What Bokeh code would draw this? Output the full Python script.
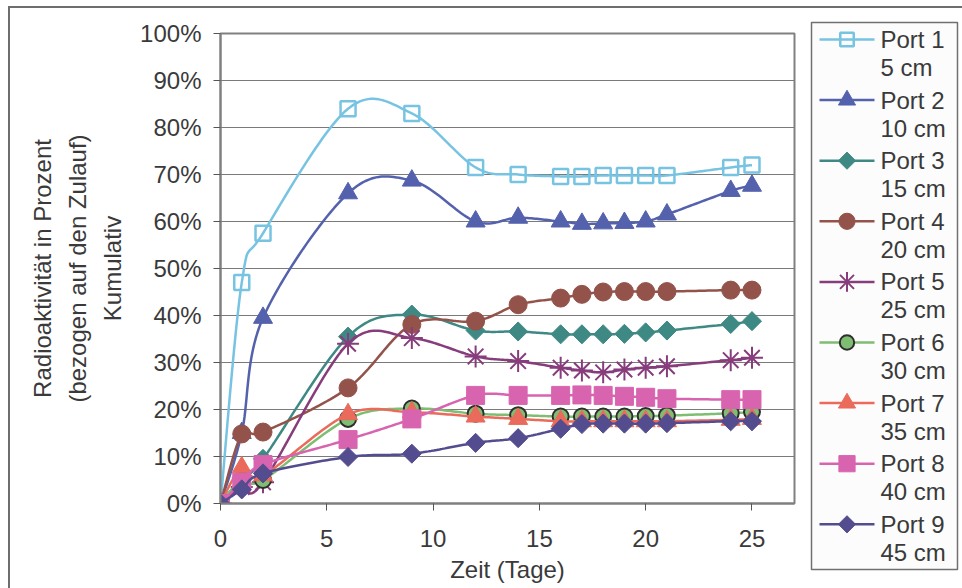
import numpy as np
from bokeh.plotting import figure
from bokeh.layouts import row
from bokeh.models import FixedTicker, PrintfTickFormatter, Range1d
from bokeh.core.properties import value
from bokeh.embed import file_html
from bokeh.resources import INLINE

# Sampling days
tage = [0, 1, 2, 6, 9, 12, 14, 16, 17, 18, 19, 20, 21, 24, 25]

# Cumulative radioactivity per port, percent of the inflow
port1 = [0, 47, 57.5, 84, 83, 71.5, 70, 69.6, 69.6, 69.8, 69.8, 69.8, 69.8, 71.5, 72]
port2 = [0, 15, 39.5, 66, 68.7, 60, 60.8, 60, 59.5, 59.6, 59.7, 60, 61.5, 66.5, 67.6]
port3 = [0, 5.5, 9.5, 35.5, 40.2, 36.8, 36.6, 36, 36, 36, 36.1, 36.4, 36.8, 38.2, 38.8]
port4 = [0, 14.8, 15.2, 24.6, 38.1, 38.8, 42.3, 43.7, 44.5, 45, 45.1, 45.1, 45.1, 45.4, 45.4]
port5 = [0, 3.5, 4.5, 34, 35.2, 31.3, 30.3, 28.9, 28.3, 27.9, 28.5, 28.9, 29.2, 30.5, 31]
port6 = [0, 5, 5, 18, 20.2, 19.1, 18.8, 18.5, 18.5, 18.5, 18.5, 18.6, 18.7, 19.2, 19.5]
port7 = [0, 7.7, 6, 19, 19.4, 18.5, 18, 17.5, 17.5, 17.5, 17.5, 17.5, 17.5, 17.8, 18]
port8 = [0, 4.5, 8.3, 13.6, 18, 23, 23, 23, 23.1, 23, 22.8, 22.6, 22.3, 22.1, 22.1]
port9 = [0, 3, 6.4, 9.9, 10.6, 12.9, 13.9, 15.9, 16.9, 17, 17, 17, 17.1, 17.5, 17.5]

port_names = ["Port 1", "Port 2", "Port 3", "Port 4", "Port 5",
              "Port 6", "Port 7", "Port 8", "Port 9"]
depths = ["5 cm", "10 cm", "15 cm", "20 cm", "25 cm",
          "30 cm", "35 cm", "40 cm", "45 cm"]

y_ticks = [0, 10, 20, 30, 40, 50, 60, 70, 80, 90, 100]
x_ticks = [0, 5, 10, 15, 20, 25]

FONT = "Liberation Sans"
TEXT = "#3a3a3a"
GRID = "#7a7a7a"
FS = "24px"
DIAMOND = np.pi / 4


def smooth(xs, ys, n=24):
    """Cardinal (Catmull-Rom) Bezier smoothing of a polyline."""
    px = np.asarray(xs, float)
    py = np.asarray(ys, float)
    ox, oy = [], []
    m = len(px)
    for i in range(m - 1):
        i0 = max(i - 1, 0)
        i3 = min(i + 2, m - 1)
        p0 = np.array([px[i0], py[i0]])
        p1 = np.array([px[i], py[i]])
        p2 = np.array([px[i + 1], py[i + 1]])
        p3 = np.array([px[i3], py[i3]])
        c1 = p1 + (p2 - p0) / 6.0
        c2 = p2 - (p3 - p1) / 6.0
        t = np.linspace(0, 1, n, endpoint=(i == m - 2))
        b = ((1 - t) ** 3)[:, None] * p1 + (3 * (1 - t) ** 2 * t)[:, None] * c1 \
            + (3 * (1 - t) * t ** 2)[:, None] * c2 + (t ** 3)[:, None] * p2
        ox.extend(b[:, 0])
        oy.extend(b[:, 1])
    return ox, oy


p = figure(width=794, height=580, output_backend="svg", toolbar_location=None,
           x_range=Range1d(0, 27), y_range=Range1d(0, 100),
           min_border_left=210, min_border_right=10,
           min_border_top=25, min_border_bottom=85)
p.background_fill_color = "white"
p.border_fill_color = "white"
p.outline_line_color = "#808080"
p.outline_line_width = 2

# axes
p.xaxis.ticker = FixedTicker(ticks=x_ticks)
p.yaxis.ticker = FixedTicker(ticks=y_ticks)
p.yaxis.formatter = PrintfTickFormatter(format="%d%%")
for ax in (p.xaxis[0], p.yaxis[0]):
    ax.axis_line_color = "#808080"
    ax.axis_line_width = 2
    ax.major_tick_line_color = "#555555"
    ax.major_tick_line_width = 1
    ax.major_tick_in = 0
    ax.major_tick_out = 7
    ax.minor_tick_line_color = None
    ax.major_label_text_font = FONT
    ax.major_label_text_font_size = FS
    ax.major_label_text_color = TEXT
    ax.axis_label_text_font = FONT
    ax.axis_label_text_font_size = FS
    ax.axis_label_text_font_style = "normal"
    ax.axis_label_text_color = TEXT
p.yaxis.major_label_standoff = 12
p.xaxis.major_label_standoff = 19
p.xaxis.axis_label = "Zeit (Tage)"
p.xaxis.axis_label_standoff = 6
p.yaxis.axis_label = "Radioaktivität in Prozent\n(bezogen auf den Zulauf)\nKumulativ"
p.yaxis.axis_label_standoff = 11
p.yaxis.axis_label_text_line_height = 1.3

p.xgrid.grid_line_color = None
p.ygrid.grid_line_color = GRID
p.ygrid.grid_line_width = 1

series = [
    (port1, "#77c3e2", dict(marker="square", size=15, fill_color=None, line_color="#77c3e2", line_width=2.5)),
    (port2, "#5461ad", dict(marker="triangle", size=19, fill_color="#5461ad", line_color="#5461ad")),
    (port3, "#3f8985", dict(marker="square", size=13.5, angle=DIAMOND, fill_color="#3f8985", line_color="#3f8985")),
    (port4, "#93524a", dict(marker="circle", size=18, fill_color="#93524a", line_color="#93524a")),
    (port5, "#873c7c", dict(marker="asterisk", size=22, fill_color=None, line_color="#873c7c", line_width=2)),
    (port6, "#7fbd72", dict(marker="circle", size=16, fill_color="#7fbd72", line_color="#2e2e2e", line_width=2)),
    (port7, "#ea6a5b", dict(marker="triangle", size=19, fill_color="#ea6a5b", line_color="#ea6a5b")),
    (port8, "#d864b0", dict(marker="square", size=18, fill_color="#d864b0", line_color="#d864b0")),
    (port9, "#534c8f", dict(marker="square", size=13.5, angle=DIAMOND, fill_color="#534c8f", line_color="#534c8f")),
]

for vals, col, mk in series:
    sx, sy = smooth(tage, vals)
    p.line(sx, sy, line_color=col, line_width=2.5)
    p.scatter(tage, vals, **mk)

# legend panel, laid out in pixel coordinates (y grows downward)
lg = figure(width=158, height=580, output_backend="svg", toolbar_location=None,
            x_range=Range1d(0, 158), y_range=Range1d(580, 0),
            min_border=0, x_axis_type=None, y_axis_type=None)
lg.frame_align = False
lg.grid.visible = False
lg.outline_line_color = None
lg.background_fill_color = "white"
lg.border_fill_color = "white"
lg.quad(left=[7], right=[153], top=[14], bottom=[561],
        fill_color="#fcfcfc", line_color="#707070", line_width=1.5)

step = 60.6
for i, (vals, col, mk) in enumerate(series):
    yc = 31 + step * i
    lg.line([15, 70], [yc, yc], line_color=col, line_width=2.5)
    mk2 = dict(mk)
    mk2["size"] = mk["size"] * 0.9
    lg.scatter([42.5], [yc], **mk2)

row_y = [31 + step * i for i in range(len(port_names))]
lg.text(x=[76] * len(port_names), y=row_y, text=port_names,
        text_baseline="middle", text_font=value(FONT), text_font_size=FS,
        text_color=TEXT)
lg.text(x=[76] * len(depths), y=[v + 28 for v in row_y], text=depths,
        text_baseline="middle", text_font=value(FONT), text_font_size=FS,
        text_color=TEXT)

layout = row(p, lg)
layout.styles = {"margin-left": "8px", "margin-top": "6px",
                 "border-left": "2px solid #6e6e6e", "border-top": "2px solid #6e6e6e"}

open("out.html", "w").write(file_html(layout, INLINE))
